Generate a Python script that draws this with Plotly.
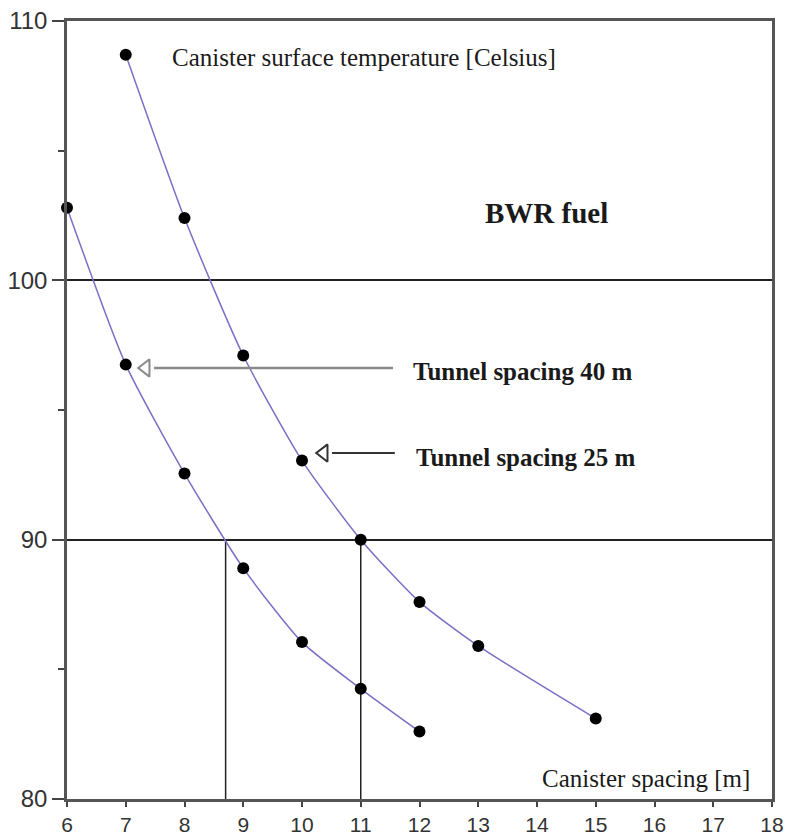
import plotly.graph_objects as go

# Data
spacing_25 = [7, 8, 9, 10, 11, 12, 13, 15]
temp_25 = [108.7, 102.4, 97.1, 93.05, 90.0, 87.6, 85.9, 83.1]

spacing_40 = [6, 7, 8, 9, 10, 11, 12]
temp_40 = [102.8, 96.75, 92.55, 88.9, 86.05, 84.25, 82.6]

guide_x = [8.7, 11.0]
guide_y = [80, 90]

x_ticks = list(range(6, 19))
y_ticks = [80, 90, 100, 110]

# label arrows: (head x, tail x, y)
arrow_40 = dict(head=7.34, tail=11.55, y=96.62)
arrow_25 = dict(head=10.37, tail=11.58, y=93.34)

curve_color = "#7a70c6"
serif = "Liberation Serif, Times New Roman, serif"

fig = go.Figure()

# vertical guide lines
for gx in guide_x:
    fig.add_trace(go.Scatter(x=[gx, gx], y=guide_y, mode="lines",
                             line=dict(color="#222", width=1.5),
                             showlegend=False, hoverinfo="skip"))

for xs, ys in [(spacing_25, temp_25), (spacing_40, temp_40)]:
    fig.add_trace(go.Scatter(x=xs, y=ys, mode="lines+markers", cliponaxis=False,
                             line=dict(color=curve_color, width=1.5, shape="spline", smoothing=0.6),
                             marker=dict(color="black", size=12),
                             showlegend=False))

# arrows
for arr, col, w in [(arrow_40, "#8a8a8a", 2.5), (arrow_25, "#333333", 2)]:
    fig.add_trace(go.Scatter(x=[arr["head"] + 0.14, arr["tail"]], y=[arr["y"], arr["y"]],
                             mode="lines", line=dict(color=col, width=w),
                             showlegend=False, hoverinfo="skip"))
    fig.add_trace(go.Scatter(x=[arr["head"]], y=[arr["y"]], mode="markers",
                             marker=dict(symbol="triangle-left-open", size=15,
                                         color=col, line=dict(color=col, width=2)),
                             showlegend=False, hoverinfo="skip"))

annots = [
    dict(x=7.75, y=108.6, text="Canister surface temperature [Celsius]", size=25, bold=False),
    dict(x=11.86, y=96.5, text="Tunnel spacing 40 m", size=25, bold=True),
    dict(x=11.9, y=93.15, text="Tunnel spacing 25 m", size=25, bold=True),
    dict(x=13.08, y=102.6, text="BWR fuel", size=29, bold=True),
    dict(x=14.05, y=80.8, text="Canister spacing [m]", size=25, bold=False),
]
for a in annots:
    t = f"<b>{a['text']}</b>" if a["bold"] else a["text"]
    fig.add_annotation(x=a["x"], y=a["y"], text=t, showarrow=False,
                       xanchor="left", yanchor="middle",
                       font=dict(family=serif, size=a["size"], color="#1a1a1a"))

fig.update_xaxes(range=[6, 18], tickvals=x_ticks, ticktext=[str(v) for v in x_ticks],
                 ticks="outside", ticklen=5, tickwidth=2, tickcolor="#444",
                 showline=True, linecolor="#555", linewidth=2.5, mirror=True,
                 showgrid=False, zeroline=False, automargin=False,
                 tickfont=dict(family="Liberation Sans, Arial, sans-serif", size=21, color="#333"))
fig.update_yaxes(range=[80, 110], tickvals=y_ticks, ticktext=[str(v) for v in y_ticks],
                 ticks="outside", ticklen=12, tickwidth=2, tickcolor="#444",
                 minor=dict(ticks="outside", ticklen=6, tickwidth=2, tickcolor="#444",
                            dtick=5, showgrid=False),
                 showline=True, linecolor="#555", linewidth=2.5, mirror=True,
                 showgrid=True, gridcolor="#222", gridwidth=1.5, zeroline=False,
                 automargin=False,
                 tickfont=dict(family="Liberation Sans, Arial, sans-serif", size=24, color="#333"))

fig.update_layout(width=787, height=838, margin=dict(l=67, r=15, t=21, b=39),
                  plot_bgcolor="white", paper_bgcolor="white")

fig.write_html("out.html")
